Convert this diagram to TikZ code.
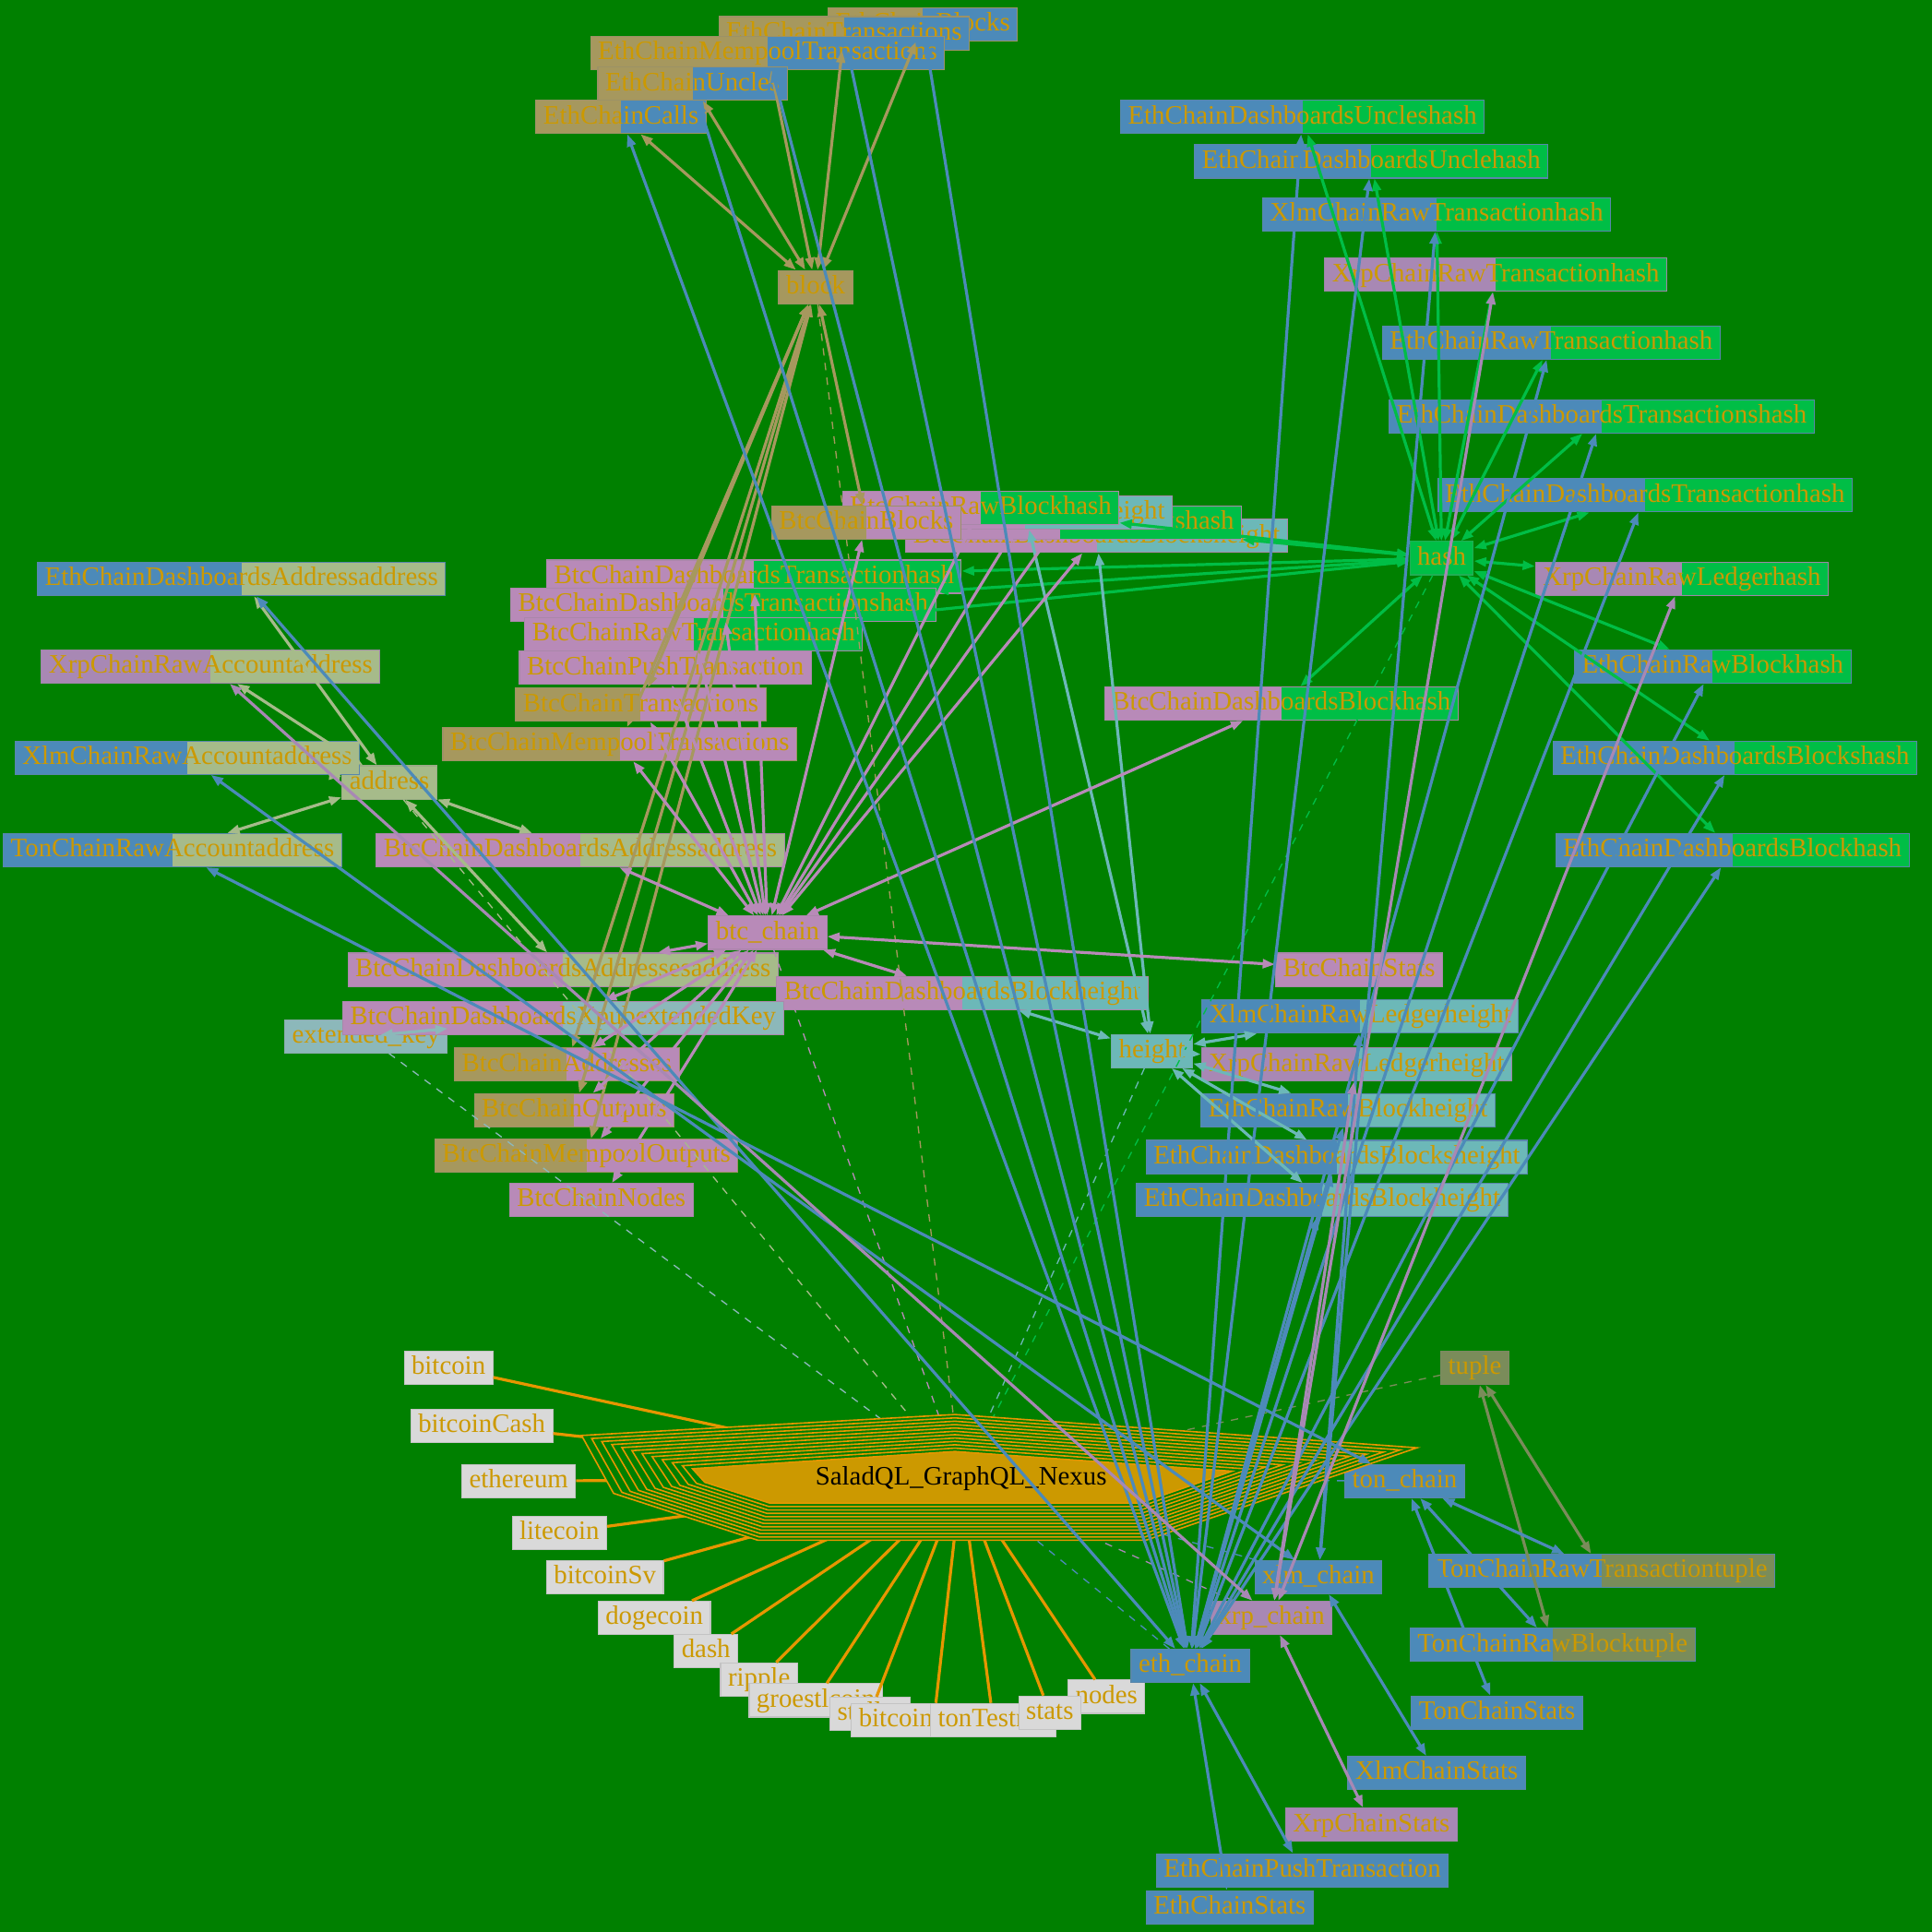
\documentclass[tikz,border=0pt]{standalone}
\usepackage{fontspec}
\setmainfont{Liberation Serif}
\usetikzlibrary{arrows.meta,calc}

\definecolor{bg}{RGB}{0,128,0}
\definecolor{gold}{RGB}{204,153,0}
\definecolor{eth}{RGB}{76,138,185}
\definecolor{btc}{RGB}{184,138,184}
\definecolor{xrp}{RGB}{168,136,180}
\definecolor{blk}{RGB}{166,152,94}
\definecolor{hsh}{RGB}{0,190,70}
\definecolor{adr}{RGB}{166,187,138}
\definecolor{hgt}{RGB}{108,184,184}
\definecolor{xkey}{RGB}{140,184,186}
\definecolor{tpl}{RGB}{122,140,90}
\definecolor{leaf}{RGB}{217,217,217}
\definecolor{nex}{RGB}{230,150,0}

\tikzset{
box/.style={
  rectangle,
  fill=#1,
  draw=#1!75!gray,
  line width=0.4pt,
  text=gold,
  font=\fontsize{10.8}{12}\selectfont,
  inner xsep=3pt,
  inner ysep=0pt,
  minimum height=13.5pt,
  text height=7.6pt,
  text depth=2.2pt
},
fld/.style 2 args={box=#1,
  path picture={\fill[#2] (path picture bounding box.north) rectangle (path picture bounding box.south east);}},
link/.style={line width=1.2pt, draw=#1, <->},
toroot/.style={line width=0.5pt, draw=#1, dash pattern=on 3pt off 3pt},
spoke/.style={line width=1.2pt, draw=nex}
}

\begin{document}
\begin{tikzpicture}[x=0.5pt,y=-0.5pt,>={Triangle[length=5pt,width=3.6pt]}]
\fill[bg] (0,0) rectangle (1568,1568);
\useasboundingbox (0,0) rectangle (1568,1568);

% the leaves
\foreach \n/\x/\y in {bitcoin/364/1110,bitcoinCash/391/1157,ethereum/421/1202,
  litecoin/454/1244,bitcoinSv/491/1280,dogecoin/531/1313,dash/573/1340,
  ripple/616/1363,groestlcoin/662/1380,stellar/706/1391,bitcoinTestnet/758/1396,
  tonTestnet/806/1396,nodes/898/1377,stats/852/1390}
  \node[box=leaf] (\n) at (\x,\y) {\n};

% the type nodes
\node[box=blk] (block) at (662,233) {block};
\node[box=hsh] (hash) at (1170,453) {hash};
\node[box=adr] (address) at (316,635) {address};
\node[box=hgt] (height) at (935,853) {height};
\node[box=xkey] (extkey) at (297,841) {extended\_key};
\node[box=tpl] (tuple) at (1197,1110) {tuple};

% the chains
\node[box=btc] (btcchain) at (623,757) {btc\_chain};
\node[box=eth] (tonchain) at (1140,1202) {ton\_chain};
\node[box=eth] (xlmchain) at (1070,1280) {xlm\_chain};
\node[box=xrp] (xrpchain) at (1032,1313) {xrp\_chain};
\node[box=eth] (ethchain) at (966,1352) {eth\_chain};

% the fields
\foreach \n/\x/\y/\a/\b/\t in {
  ethBlocks/749/20/blk/eth/EthChainBlocks,
  ethTx/685/27/blk/eth/EthChainTransactions,
  ethMempool/623/43/blk/eth/EthChainMempoolTransactions,
  ethUncles/562/68/blk/eth/EthChainUncles,
  ethCalls/504/95/blk/eth/EthChainCalls,
  ethDUncleshash/1057/95/eth/hsh/EthChainDashboardsUncleshash,
  ethDUnclehash/1113/131/eth/hsh/EthChainDashboardsUnclehash,
  xlmRawTxhash/1166/174/eth/hsh/XlmChainRawTransactionhash,
  xrpRawTxhash/1214/223/xrp/hsh/XrpChainRawTransactionhash,
  ethRawTxhash/1259/278/eth/hsh/EthChainRawTransactionhash,
  ethDTxshash/1300/338/eth/hsh/EthChainDashboardsTransactionshash,
  ethDTxhash/1335/402/eth/hsh/EthChainDashboardsTransactionhash,
  xrpRawLedgerhash/1365/470/xrp/hsh/XrpChainRawLedgerhash,
  ethRawBlockhash/1390/541/eth/hsh/EthChainRawBlockhash,
  ethDBlockshash/1408/615/eth/hsh/EthChainDashboardsBlockshash,
  ethDBlockhash/1406/690/eth/hsh/EthChainDashboardsBlockhash,
  btcDBlockhash/1040/571/btc/hsh/BtcChainDashboardsBlockhash,
  btcDBlocksheight/890/435/btc/hgt/BtcChainDashboardsBlocksheight,
  btcDBlockshash/860/424/btc/hsh/BtcChainDashboardsBlockshash,
  btcRawBlockheight/832/416/btc/hgt/BtcChainRawBlockheight,
  btcRawBlockhash/796/412/btc/hsh/BtcChainRawBlockhash,
  btcBlocks/703/424/blk/btc/BtcChainBlocks,
  btcDTxhash/612/468/btc/hsh/BtcChainDashboardsTransactionhash,
  btcDTxshash/587/491/btc/hsh/BtcChainDashboardsTransactionshash,
  btcRawTxhash/563/515/btc/hsh/BtcChainRawTransactionhash,
  btcPushTx/540/542/btc/btc/BtcChainPushTransaction,
  btcTx/520/572/blk/btc/BtcChainTransactions,
  btcMempoolTx/503/604/blk/btc/BtcChainMempoolTransactions,
  btcDAddressaddress/471/690/btc/adr/BtcChainDashboardsAddressaddress,
  btcDAddressesaddress/457/787/btc/adr/BtcChainDashboardsAddressesaddress,
  btcDBlockheight/781/806/btc/hgt/BtcChainDashboardsBlockheight,
  btcStats/1103/787/btc/btc/BtcChainStats,
  btcDXpub/457/826/btc/xkey/BtcChainDashboardsXpubextendedKey,
  btcAddresses/460/864/blk/btc/BtcChainAddresses,
  btcOutputs/466/901/blk/btc/BtcChainOutputs,
  btcMempoolOutputs/476/938/blk/btc/BtcChainMempoolOutputs,
  btcNodes/488/974/btc/btc/BtcChainNodes,
  ethDAddressaddress/196/470/eth/adr/EthChainDashboardsAddressaddress,
  xrpRawAccountaddress/171/541/xrp/adr/XrpChainRawAccountaddress,
  xlmRawAccountaddress/152/615/eth/adr/XlmChainRawAccountaddress,
  tonRawAccountaddress/140/690/eth/adr/TonChainRawAccountaddress,
  xlmRawLedgerheight/1104/825/eth/hgt/XlmChainRawLedgerheight,
  xrpRawLedgerheight/1101/864/xrp/hgt/XrpChainRawLedgerheight,
  ethRawBlockheight/1094/901/eth/hgt/EthChainRawBlockheight,
  ethDBlocksheight/1085/939/eth/hgt/EthChainDashboardsBlocksheight,
  ethDBlockheight/1073/974/eth/hgt/EthChainDashboardsBlockheight,
  tonRawTxtuple/1300/1275/eth/tpl/TonChainRawTransactiontuple,
  tonRawBlocktuple/1260/1335/eth/tpl/TonChainRawBlocktuple,
  tonStats/1215/1390/eth/eth/TonChainStats,
  xlmStats/1166/1439/eth/eth/XlmChainStats,
  xrpStats/1113/1481/xrp/xrp/XrpChainStats,
  ethPushTx/1057/1518/eth/eth/EthChainPushTransaction,
  ethStats/998/1548/eth/eth/EthChainStats}
  \node[fld={\a}{\b}] (\n) at (\x,\y) {\t};

% the root
\coordinate (nexus) at (780,1200);
\foreach \n in {bitcoin,bitcoinCash,ethereum,litecoin,bitcoinSv,dogecoin,dash,
  ripple,groestlcoin,stellar,bitcoinTestnet,tonTestnet,stats,nodes}
  \draw[spoke] (\n) -- (nexus);
\foreach \n/\c in {block/blk,address/adr,extkey/xkey,hash/hsh,height/hgt,tuple/tpl,
  btcchain/btc,ethchain/eth,xrpchain/xrp,xlmchain/eth,tonchain/eth}
  \draw[toroot=\c] (\n) -- (nexus);

\coordinate (I1) at (562,1192); \coordinate (O1) at (472,1165);
\coordinate (I2) at (775,1178); \coordinate (O2) at (775,1148);
\coordinate (I3) at (1000,1194); \coordinate (O3) at (1150,1175);
\coordinate (I4) at (925,1220); \coordinate (O4) at (930,1250);
\coordinate (I5) at (625,1220); \coordinate (O5) at (615,1250);
\coordinate (I6) at (572,1203); \coordinate (O6) at (498,1212);
\fill[bg] (O1) -- (O2) -- (O3) -- (O4) -- (O5) -- (O6) -- cycle;
\foreach \k [evaluate=\k as \f using \k/11] in {1,...,11}
  \draw[nex, line width=0.6pt] ($(I1)!\f!(O1)$) -- ($(I2)!\f!(O2)$) -- ($(I3)!\f!(O3)$)
    -- ($(I4)!\f!(O4)$) -- ($(I5)!\f!(O5)$) -- ($(I6)!\f!(O6)$) -- cycle;
\filldraw[fill=gold, draw=nex, line width=0.6pt] (I1) -- (I2) -- (I3) -- (I4) -- (I5) -- (I6) -- cycle;
\node[font=\fontsize{10.8}{12}\selectfont, text=black] (nexuslbl) at (nexus) {SaladQL\_GraphQL\_Nexus};

% the edges
\foreach \n in {ethCalls,ethUncles,ethMempool,ethTx,ethBlocks,btcBlocks,btcTx,
  btcMempoolTx,btcAddresses,btcOutputs,btcMempoolOutputs}
  \draw[link=blk] (block) -- (\n);
\foreach \n in {ethDUncleshash,ethDUnclehash,xlmRawTxhash,xrpRawTxhash,ethRawTxhash,
  ethDTxshash,ethDTxhash,xrpRawLedgerhash,ethRawBlockhash,ethDBlockshash,ethDBlockhash,
  btcDBlockhash,btcRawBlockhash,btcDBlockshash,btcDTxhash,btcDTxshash,btcRawTxhash}
  \draw[link=hsh] (hash) -- (\n);
\foreach \n in {ethDAddressaddress,xrpRawAccountaddress,xlmRawAccountaddress,
  tonRawAccountaddress,btcDAddressaddress,btcDAddressesaddress}
  \draw[link=adr] (address) -- (\n);
\foreach \n in {btcRawBlockheight,btcDBlocksheight,btcDBlockheight,xlmRawLedgerheight,
  xrpRawLedgerheight,ethRawBlockheight,ethDBlocksheight,ethDBlockheight}
  \draw[link=hgt] (height) -- (\n);
\draw[link=xkey] (extkey) -- (btcDXpub);
\foreach \n in {tonRawTxtuple,tonRawBlocktuple}
  \draw[link=tpl] (tuple) -- (\n);
\foreach \n in {btcBlocks,btcRawBlockhash,btcRawBlockheight,btcDBlockshash,
  btcDBlocksheight,btcDTxhash,btcDTxshash,btcRawTxhash,btcPushTx,btcTx,btcMempoolTx,
  btcDAddressaddress,btcDAddressesaddress,btcDBlockheight,btcStats,btcDXpub,
  btcAddresses,btcOutputs,btcMempoolOutputs,btcNodes,btcDBlockhash}
  \draw[link=btc] (btcchain) -- (\n);
\foreach \n in {ethCalls,ethUncles,ethMempool,ethTx,ethBlocks,ethDAddressaddress,
  ethDUncleshash,ethDUnclehash,ethRawTxhash,ethDTxshash,ethDTxhash,ethRawBlockhash,
  ethDBlockshash,ethDBlockhash,ethRawBlockheight,ethDBlocksheight,ethDBlockheight,
  ethPushTx,ethStats}
  \draw[link=eth] (ethchain) -- (\n);
\foreach \n in {xlmRawTxhash,xlmRawAccountaddress,xlmRawLedgerheight,xlmStats}
  \draw[link=eth] (xlmchain) -- (\n);
\foreach \n in {xrpRawTxhash,xrpRawAccountaddress,xrpRawLedgerhash,xrpRawLedgerheight,xrpStats}
  \draw[link=xrp] (xrpchain) -- (\n);
\foreach \n in {tonRawAccountaddress,tonRawTxtuple,tonRawBlocktuple,tonStats}
  \draw[link=eth] (tonchain) -- (\n);
\end{tikzpicture}
\end{document}
